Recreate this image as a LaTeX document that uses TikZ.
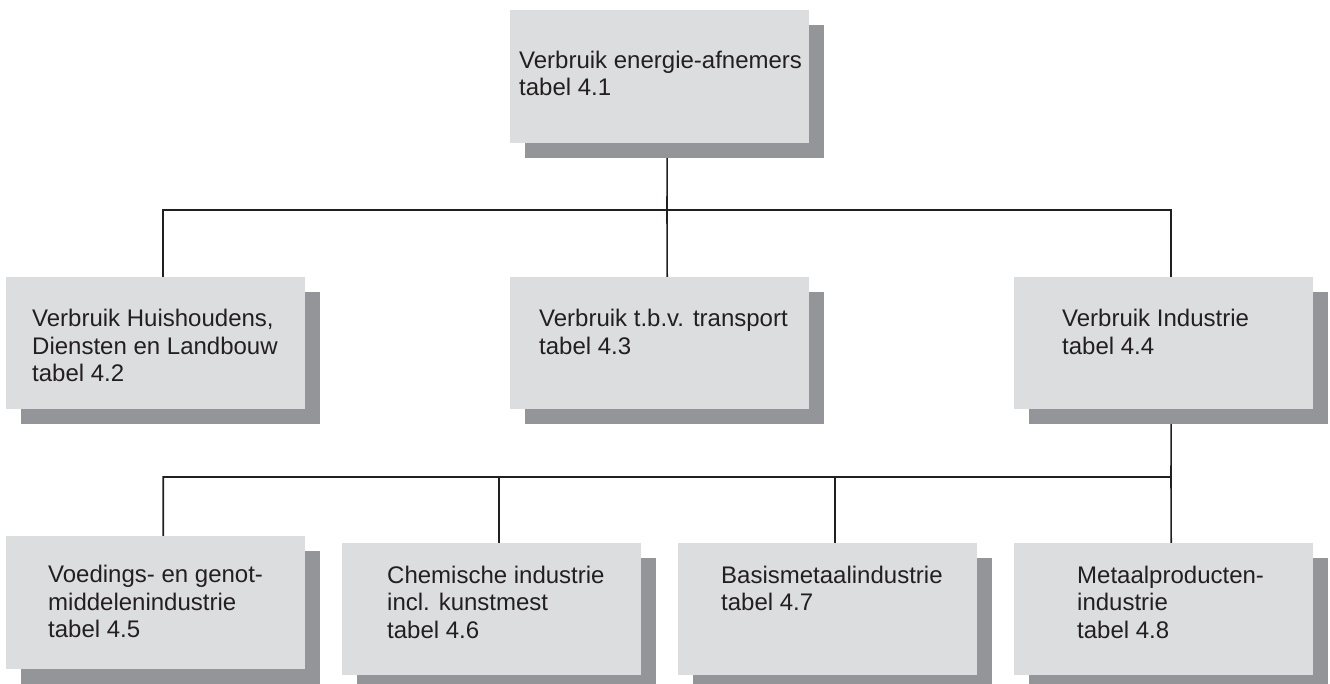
\documentclass[tikz,border=0pt]{standalone}
\usepackage{fontspec}
\setmainfont{Liberation Sans}
\usetikzlibrary{shadows,backgrounds}
\definecolor{boxfill}{HTML}{DCDDDF}
\definecolor{shadowfill}{HTML}{939598}
\definecolor{ink}{HTML}{231F20}
\begin{document}
\begin{tikzpicture}[x=1pt,y=-1pt,
  panel/.style={rectangle, fill=boxfill, minimum width=299pt, minimum height=132pt,
    inner sep=0pt, anchor=north west,
    drop shadow={shadow xshift=15pt, shadow yshift=-15pt, fill=shadowfill, opacity=1}},
  txt/.style={anchor=north west, inner sep=0pt, align=left,
    font=\fontsize{24pt}{27.5pt}\selectfont, text=ink},
  link/.style={draw=ink, line width=1.6pt}]
\useasboundingbox (0,0) rectangle (1330,684);

% boxes
\node[panel, minimum height=133pt] (top) at (510,10) {};
\node[panel] (hh) at (6,277) {};
\node[panel] (tr) at (510,277) {};
\node[panel] (ind) at (1014,277) {};
\node[panel, minimum height=133pt] (vo) at (6,536) {};
\node[panel] (ch) at (342,543) {};
\node[panel] (ba) at (678,543) {};
\node[panel] (me) at (1014,543) {};

% texts
\node[txt] (topt) at (519,50.5) {Verbruik energie-afnemers\\tabel 4.1};
\node[txt] (hht) at (32,309) {Verbruik Huishoudens,\\Diensten en Landbouw\\tabel 4.2};
\node[txt] (trt) at (539,309) {Verbruik t.b.v. transport\\tabel 4.3};
\node[txt] (indt) at (1062,309) {Verbruik Industrie\\tabel 4.4};
\node[txt] (vot) at (48,565) {Voedings- en genot-\\middelenindustrie\\tabel 4.5};
\node[txt] (cht) at (387,565.5) {Chemische industrie\\incl. kunstmest\\tabel 4.6};
\node[txt] (bat) at (721,565.5) {Basismetaalindustrie\\tabel 4.7};
\node[txt] (met) at (1077,565.5) {Metaalproducten-\\industrie\\tabel 4.8};

% connectors
\begin{scope}[on background layer]
  \coordinate (j1) at (667,210);
  \coordinate (j2) at (1171,477);
  \draw[link] ([xshift=7.5pt]top.south) -- (j1);
  \draw[link] ([xshift=7.5pt]hh.north) |- (j1) -| ([xshift=7.5pt]ind.north);
  \draw[link] (j1) -- ([xshift=7.5pt]tr.north);
  \draw[link] ([xshift=7.5pt]ind.south) -- (j2);
  \draw[link] ([xshift=7.5pt]vo.north) |- (j2) -- ([xshift=7.5pt]me.north);
  \draw[link] ([xshift=7.5pt]ch.north) -- ([xshift=7.5pt]ch.north |- j2);
  \draw[link] ([xshift=7.5pt]ba.north) -- ([xshift=7.5pt]ba.north |- j2);
\end{scope}
\end{tikzpicture}
\end{document}
